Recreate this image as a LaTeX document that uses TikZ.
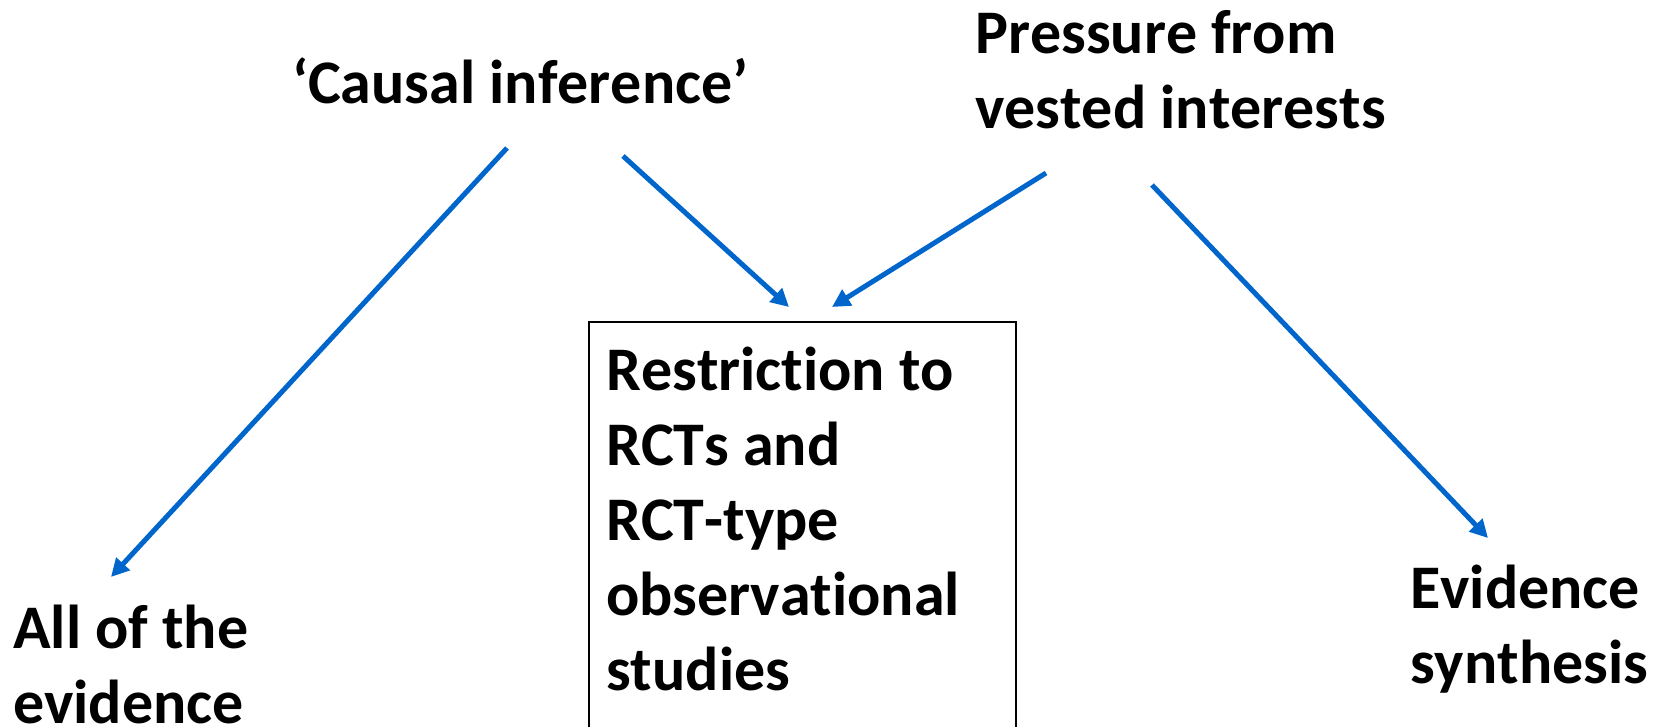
\documentclass[tikz,border=0pt]{standalone}
\usepackage{fontspec}
\setmainfont{Carlito}[Ligatures=NoCommon,Kerning=Off]
\usetikzlibrary{arrows.meta,calc}
\definecolor{arrblue}{RGB}{0,102,204}
\tikzset{
  lbl/.style={inner sep=0pt, anchor=base west, font=\fontsize{62}{75}\selectfont\bfseries},
  arr/.style={draw=arrblue, line width=5pt, -{Triangle[length=18pt,width=18pt]}},
  framebox/.style={draw=black, line width=2pt, inner sep=0pt, anchor=north west, minimum width=427pt, minimum height=460pt}
}
\newcommand{\ml}[1]{\begin{tabular}[t]{@{}l@{}}#1\end{tabular}}
\newcommand{\tI}{t\kern0pt i}
\begin{document}
\begin{tikzpicture}[x=1pt,y=-1pt]
\useasboundingbox (0,0) rectangle (1662,726);
\clip (0,0) rectangle (1662,726);
\node[framebox] (box) at (588,321) {};
\node[lbl] (ci) at (292,103) {‘Causal inference’};
\node[lbl] (pv) at (975,53) {\ml{Pressure from\\vested interests}};
\node[lbl] (rt) at (606,390) {\ml{Restric\tI on to\\RCTs and\\RCT-type\\observa\tI onal\\studies}};
\node[lbl] (all) at (13,648) {\ml{All of the\\evidence}};
\node[lbl] (es) at (1410,608) {\ml{Evidence\\synthesis}};
\draw[arr] ($(ci.base west)+(215,45)$) -- ($(all.base west)+(98,-71)$);
\draw[arr] ($(ci.base west)+(331,53)$) -- ($(rt.base west)+(183,-83)$);
\draw[arr] ($(pv.base west)+(71,120)$) -- ($(rt.base west)+(226,-83)$);
\draw[arr] ($(pv.base west)+(177,132)$) -- ($(es.base west)+(78,-70)$);
\end{tikzpicture}
\end{document}
